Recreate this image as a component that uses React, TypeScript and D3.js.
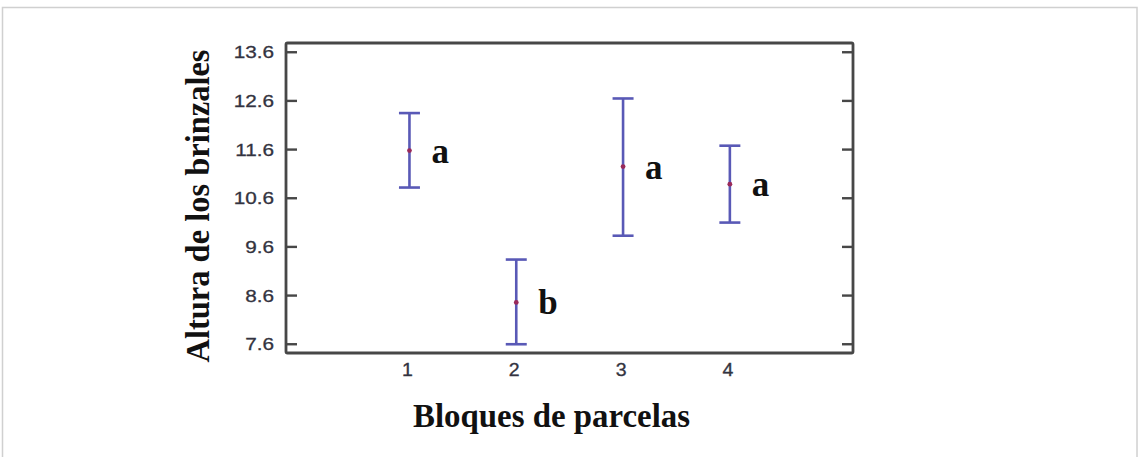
import React from "react";
import * as d3 from "d3";

const categories = [1, 2, 3, 4];
const means = [11.58, 8.46, 11.25, 10.89];
const lowers = [10.82, 7.6, 9.83, 10.1];
const uppers = [12.35, 9.34, 12.65, 11.68];
const groupLetters = ["a", "b", "a", "a"];
const yTicks = [7.6, 8.6, 9.6, 10.6, 11.6, 12.6, 13.6];
const xLabel = "Bloques de parcelas";
const yLabel = "Altura de los brinzales";

const W = 1139;
const H = 457;
const plot = { left: 286, top: 43, right: 853, bottom: 353 };

export default function App() {
  const x = d3.scaleLinear().domain([-0.156, 5.153]).range([plot.left, plot.right]);
  const y = d3.scaleLinear().domain([7.42, 13.79]).range([plot.bottom, plot.top]);
  const frame = "#474747";
  const barColor = "#5959b6";
  const tickFont = "Arial, 'Liberation Sans', sans-serif";
  const serif = "'Times New Roman', 'Liberation Serif', serif";
  return (
    <svg width={W} height={H} style={{ position: "absolute", left: 0, top: 0 }}>
      <rect x={0} y={0} width={W} height={H} fill="#fff" />
      <rect x={2.5} y={7.5} width={1134.5} height={460} fill="none" stroke="#d0d0d0" strokeWidth={1.5} />
      <rect
        x={plot.left}
        y={plot.top}
        width={plot.right - plot.left}
        height={plot.bottom - plot.top}
        fill="none"
        stroke={frame}
        strokeWidth={2.8}
        rx={1.5}
      />
      {yTicks.map((t) => (
        <g key={t}>
          <line x1={plot.left} x2={plot.left + 11} y1={y(t)} y2={y(t)} stroke={frame} strokeWidth={2.4} />
          <line x1={plot.right} x2={plot.right - 11} y1={y(t)} y2={y(t)} stroke={frame} strokeWidth={2.4} />
          <g transform={`translate(274,${y(t) + 6}) scale(1.22,1)`}>
            <text textAnchor="end" fontFamily={tickFont} fontSize={17} fill="#333340" stroke="#333340" strokeWidth={0.3}>
              {t.toFixed(1)}
            </text>
          </g>
        </g>
      ))}
      {categories.map((c) => (
        <g key={"xl" + c} transform={`translate(${x(c) - 2},${y(7.6) + 32}) scale(1.15,1.05)`}>
          <text textAnchor="middle" fontFamily={tickFont} fontSize={17} fill="#333340" stroke="#333340" strokeWidth={0.3}>
            {c}
          </text>
        </g>
      ))}
      {categories.map((c, i) => {
        const cx = x(c);
        return (
          <g key={"eb" + c}>
            <line x1={cx} x2={cx} y1={y(lowers[i])} y2={y(uppers[i])} stroke={barColor} strokeWidth={2.6} />
            <line x1={cx - 10.5} x2={cx + 10.5} y1={y(lowers[i])} y2={y(lowers[i])} stroke={barColor} strokeWidth={2.6} />
            <line x1={cx - 10.5} x2={cx + 10.5} y1={y(uppers[i])} y2={y(uppers[i])} stroke={barColor} strokeWidth={2.6} />
            <circle cx={cx} cy={y(means[i])} r={2.4} fill="#9a2a5a" />
            <text
              x={cx + 22}
              y={y(means[i]) + 12}
              fontFamily={serif}
              fontWeight="bold"
              fontSize={35}
              fill="#111"
            >
              {groupLetters[i]}
            </text>
          </g>
        );
      })}
      <text
        x={551.5}
        y={427}
        textAnchor="middle"
        fontFamily={serif}
        fontWeight="bold"
        fontSize={33}
        textLength={277}
        lengthAdjust="spacingAndGlyphs"
        fill="#111"
      >
        {xLabel}
      </text>
      <text
        transform={`translate(209,206) rotate(-90)`}
        textAnchor="middle"
        fontFamily={serif}
        fontWeight="bold"
        fontSize={33}
        textLength={313}
        lengthAdjust="spacingAndGlyphs"
        fill="#111"
      >
        {yLabel}
      </text>
    </svg>
  );
}
